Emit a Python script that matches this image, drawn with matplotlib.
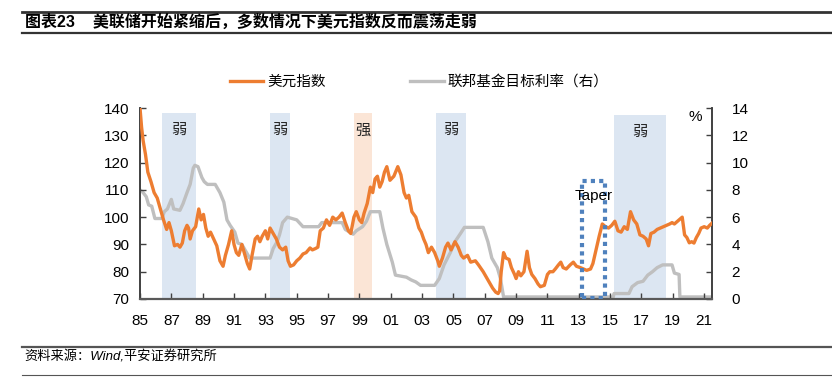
import numpy as np
import matplotlib
matplotlib.use("Agg")
import matplotlib.pyplot as plt
from matplotlib.lines import Line2D
from matplotlib.patches import Rectangle

plt.rcParams["font.family"] = ["Liberation Sans", "Noto Sans CJK SC", "DejaVu Sans"]

# 美元指数 (year, value)
dxy_t = [1985.0, 1985.1, 1985.2, 1985.35, 1985.5, 1985.7, 1985.9, 1986.1, 1986.3, 1986.5,
         1986.7, 1986.85, 1987.0, 1987.2, 1987.4, 1987.55, 1987.7, 1987.85, 1988.0, 1988.1,
         1988.2, 1988.35, 1988.55, 1988.75, 1988.9, 1989.05, 1989.2, 1989.35, 1989.5, 1989.7,
         1989.9, 1990.1, 1990.3, 1990.45, 1990.65, 1990.85, 1991.0, 1991.15, 1991.3, 1991.5,
         1991.7, 1991.85, 1992.0, 1992.15, 1992.35, 1992.5, 1992.65, 1992.8, 1993.0, 1993.15,
         1993.3, 1993.5, 1993.7, 1993.9, 1994.1, 1994.3, 1994.45, 1994.6, 1994.8, 1995.0,
         1995.2, 1995.4, 1995.6, 1995.85, 1996.0, 1996.2, 1996.35, 1996.5, 1996.7, 1996.9,
         1997.1, 1997.3, 1997.5, 1997.7, 1997.9, 1998.1, 1998.3, 1998.45, 1998.65, 1998.8,
         1999.0, 1999.15, 1999.3, 1999.5, 1999.7, 1999.85, 2000.0, 2000.15, 2000.3, 2000.45,
         2000.6, 2000.75, 2000.95, 2001.2, 2001.45, 2001.65, 2001.85, 2002.0, 2002.15, 2002.35,
         2002.6, 2002.8, 2002.95, 2003.1, 2003.25, 2003.4, 2003.6, 2003.8, 2004.0, 2004.1,
         2004.3, 2004.5, 2004.65, 2004.85, 2005.1, 2005.3, 2005.5, 2005.65, 2005.9, 2006.1,
         2006.4, 2006.6, 2006.9, 2007.1, 2007.3, 2007.5, 2007.7, 2007.85, 2007.95, 2008.05,
         2008.2, 2008.35, 2008.55, 2008.7, 2008.9, 2009.0, 2009.15, 2009.3, 2009.5, 2009.7,
         2009.85, 2010.0, 2010.2, 2010.4, 2010.55, 2010.8, 2011.0, 2011.15, 2011.35, 2011.5,
         2011.7, 2011.85, 2012.0, 2012.2, 2012.45, 2012.65, 2012.85, 2013.1, 2013.3, 2013.5,
         2013.75, 2013.9, 2014.1, 2014.3, 2014.5, 2014.7, 2014.9, 2015.1, 2015.3, 2015.5,
         2015.7, 2015.9, 2016.1, 2016.3, 2016.5, 2016.7, 2016.9, 2017.1, 2017.3, 2017.45,
         2017.6, 2017.8, 2018.0, 2018.2, 2018.4, 2018.6, 2018.8, 2018.95, 2019.1, 2019.3,
         2019.5, 2019.6, 2019.75, 2019.9, 2020.05, 2020.2, 2020.35, 2020.5, 2020.65, 2020.8,
         2021.0, 2021.2, 2021.35, 2021.5]
dxy_v = [140, 133, 128, 123, 116.5, 113, 109, 107, 103, 99,
         95.5, 98, 95, 89.5, 90, 89, 90.5, 95, 97, 96,
         92, 95, 96.5, 103, 99, 101, 96, 93, 94.5, 92,
         89.5, 84, 82, 86, 90, 95, 90, 87, 86, 90,
         86, 83, 81, 86, 92, 93, 91, 93, 95, 92,
         96, 94, 92, 89, 88, 89, 84, 82, 82.5, 84,
         85, 86.5, 87, 88.7, 88, 88.5, 89, 95, 96, 99,
         97, 100, 99, 100, 101.5, 98, 95, 94, 100, 102,
         99, 98, 101.5, 105, 111, 109, 114, 115, 111, 113,
         116.5, 118.5, 113.5, 115, 118.5, 115.5, 109, 107, 108, 102,
         100, 96, 94.5, 92, 90, 87, 89, 87, 84, 82,
         85, 89, 90.5, 88, 91, 89, 86, 85, 86, 83.5,
         84, 82.5, 80, 78, 76, 74, 72.5, 72, 73, 80,
         87, 85, 84.5, 81.5, 79, 77.5, 80, 78.5, 80, 87.5,
         81.5, 79, 77.5, 75.5, 74.5, 75, 79, 80, 80, 81,
         82.5, 83.5, 81.5, 81, 82.5, 83.5, 82, 81.5, 81, 80.5,
         81, 83, 88, 93, 97.5, 96.5, 96, 97, 98.5, 95,
         94.5, 96.5, 95.5, 102, 99, 97.5, 93.5, 93, 92, 89.5,
         94, 94.5, 95.5, 96, 96.5, 97, 97.5, 98, 97.5, 98.5,
         99.5, 100, 93.5, 92.5, 90.6, 91, 90.5, 92.5, 94, 96,
         96.5, 96, 97, 97.8]

# 联邦基金目标利率 (year, %)
ffr_t = [1985.0, 1985.2, 1985.4, 1985.55, 1985.75, 1985.95, 1986.4, 1986.55, 1986.75, 1987.0,
         1987.15, 1987.55, 1987.75, 1988.0, 1988.2, 1988.4, 1988.5, 1988.7, 1988.95, 1989.1,
         1989.3, 1989.8, 1990.1, 1990.35, 1990.55, 1990.75, 1991.05, 1991.25, 1991.5, 1991.8,
         1992.0, 1993.3, 1993.5, 1993.75, 1993.9, 1994.1, 1994.4, 1994.7, 1995.0, 1995.4,
         1996.4, 1996.6, 1997.9, 1998.1, 1998.6, 1998.8, 1999.2, 1999.45, 1999.7, 2000.3,
         2000.5, 2000.75, 2001.1, 2001.3, 2002.0, 2002.3, 2002.6, 2002.9, 2003.8, 2004.1,
         2004.4, 2004.8, 2005.1, 2005.45, 2005.7, 2006.9, 2007.0, 2007.2, 2007.45, 2007.8,
         2008.0, 2008.2, 2015.2, 2015.25, 2016.2, 2016.4, 2016.75, 2017.1, 2017.4, 2017.7,
         2018.0, 2018.35, 2018.95, 2019.1, 2019.4, 2019.45, 2021.5]
ffr_v = [8.0, 7.8, 7.5, 6.9, 6.8, 5.9, 5.9, 6.4, 6.6, 7.3,
         6.6, 6.5, 7.0, 7.8, 8.4, 9.6, 9.8, 9.7, 8.9, 8.6,
         8.4, 8.4, 7.8, 7.1, 5.8, 5.4, 4.9, 4.1, 4.0, 3.4,
         3.0, 3.0, 3.7, 4.2, 4.7, 5.6, 6.0, 5.9, 5.8, 5.3,
         5.3, 5.6, 5.6, 5.1, 4.75, 5.0, 5.3, 5.7, 6.4, 6.4,
         5.2, 4.0, 2.7, 1.75, 1.6, 1.4, 1.25, 1.0, 1.0, 1.5,
         2.5, 3.4, 4.2, 4.8, 5.25, 5.25, 4.9, 4.2, 3.0, 2.3,
         1.5, 0.15, 0.15, 0.4, 0.4, 0.9, 1.2, 1.3, 1.75, 2.0,
         2.3, 2.5, 2.5, 1.9, 1.8, 0.15, 0.15]

# shaded periods
band_start = [1986.4, 1993.3, 1998.65, 2003.9, 2015.25]
band_end = [1988.6, 1994.6, 1999.8, 2005.8, 2018.55]
band_label = ["弱", "弱", "强", "弱", "弱"]
band_top = [138, 138, 138, 138, 137.3]
taper = [2013.2, 2014.7]

xticks = list(range(1985, 2022, 2))
xticklabels = [f"{y % 100:02d}" for y in xticks]

fig = plt.figure(figsize=(8.32, 3.89), dpi=100)
ax = fig.add_axes([140 / 832, 1 - 299 / 389, 572 / 832, 191 / 389])
ax2 = ax.twinx()

# bands go on the lower (right-axis) layer so both lines sit on top of them
for s, e, lab, top in zip(band_start, band_end, band_label, band_top):
    col = "#FBE5D6" if lab == "强" else "#DCE6F2"
    ax2.add_patch(Rectangle((s, 70), e - s, top - 70, facecolor=col, edgecolor="none",
                            zorder=0, transform=ax.transData))
    ax2.text((s + e) / 2, top - 6, lab, ha="center", va="center", fontsize=11,
             family=["Noto Sans CJK SC"], color="#262626", zorder=1, transform=ax.transData)

ax.add_patch(Rectangle((taper[0], 70.3), taper[1] - taper[0], 43.0, facecolor="none",
                       edgecolor="#4F81BD", linestyle=(0, (1, 1)), linewidth=3, zorder=5))
ax.text(sum(taper) / 2, 107.6, "Taper", ha="center", va="center", fontsize=11,
        color="#000000", zorder=6)

ln2, = ax2.plot(ffr_t, ffr_v, color="#BFBFBF", lw=2.4, solid_joinstyle="round", zorder=2)
ln1, = ax.plot(dxy_t, dxy_v, color="#ED7D31", lw=2.4, solid_joinstyle="round", zorder=3)
ax.set_zorder(ax2.get_zorder() + 1)
ax.patch.set_visible(False)

ax.set_xlim(1985, 2021.5)
ax.set_ylim(70, 140)
ax2.set_ylim(0, 14)
ax.set_yticks(range(70, 141, 10))
ax2.set_yticks(range(0, 15, 2))
ax.set_xticks(xticks)
ax.set_xticklabels(xticklabels)

for a in (ax, ax2):
    a.spines["top"].set_visible(False)
    for sp in ("left", "right", "bottom"):
        a.spines[sp].set_color("#404040")
        a.spines[sp].set_linewidth(1.2)
    a.tick_params(direction="in", length=4, width=1, color="#404040",
                  labelsize=11, labelcolor="#000000")
ax.spines["bottom"].set_linewidth(1.6)
ax.spines["bottom"].set_color("#595959")
ax.tick_params(axis="x", pad=11)
ax.tick_params(axis="y", pad=8)
ax2.tick_params(axis="y", pad=14)
ax.text(0.9825, 0.99, "%", transform=ax.transAxes, ha="right", va="top", fontsize=11)

fig.legend([ln1, ln2], ["美元指数", "联邦基金目标利率（右）"], loc="center",
           bbox_to_anchor=(419 / 832, 1 - 82 / 389), ncol=2, frameon=False,
           prop={"family": ["Noto Sans CJK SC"], "size": 10.5},
           handlelength=2.3, handletextpad=0.25, columnspacing=5.8)

fig.add_artist(Line2D([22 / 832, 1], [1 - 12 / 389] * 2, color="#333333", lw=2))
fig.add_artist(Line2D([22 / 832, 1], [1 - 33 / 389] * 2, color="#333333", lw=1.6))
fig.text(25 / 832, 1 - 22 / 389, "图表23    美联储开始紧缩后，多数情况下美元指数反而震荡走弱",
         ha="left", va="center", fontsize=11.5, fontweight="bold",
         family=["Liberation Sans", "Noto Sans CJK SC"])

fig.add_artist(Line2D([22 / 832, 1], [1 - 347 / 389] * 2, color="#555555", lw=1.6))
fig.add_artist(Line2D([22 / 832, 1], [1 - 375 / 389] * 2, color="#555555", lw=0.8))
fig.text(24 / 832, 1 - 357 / 389, "资料来源：Wind,平安证券研究所", ha="left", va="center",
         fontsize=9.5, style="italic", family=["Liberation Sans", "Noto Sans CJK SC"])

fig.savefig("out.png", dpi=100)
